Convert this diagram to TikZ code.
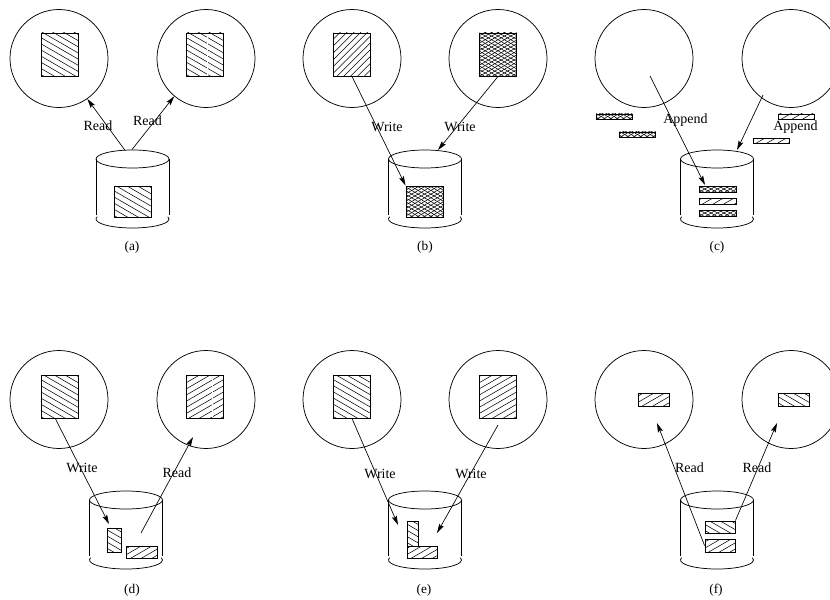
\documentclass[tikz,border=0pt]{standalone}
\usepackage{fontspec}
\setmainfont{Liberation Serif}
\usetikzlibrary{arrows.meta,calc}

% parallel hatch lines through the current path picture: angle, spacing
\newcommand\hatchlines[2]{%
  \foreach \k in {-14,...,14}{%
    \draw[line width=0.4pt]
      ($(path picture bounding box.center)
        +({-(\k)*#2*sin(#1)-45pt*cos(#1)},{(\k)*#2*cos(#1)-45pt*sin(#1)})$)
      -- ++({90pt*cos(#1)},{90pt*sin(#1)});}}

\tikzset{
  proc/.style={circle,draw,line width=0.55pt,minimum size=73.5pt,inner sep=0pt},
  blk/.style={rectangle,draw,line width=0.7pt,inner sep=0pt},
  sq/.style={blk,minimum width=27.75pt,minimum height=32.25pt},
  dsq/.style={blk,minimum width=27.75pt,minimum height=23.25pt},
  bar/.style={blk,minimum width=27.75pt,minimum height=4.5pt},
  hL/.style={path picture={\hatchlines{-30}{4pt}}},
  hR/.style={path picture={\hatchlines{30}{4pt}}},
  hF/.style={path picture={\hatchlines{45}{3.6pt}}},
  hX/.style={path picture={\hatchlines{30}{2.4pt}\hatchlines{-30}{2.4pt}}},
  arr/.style={line width=0.5pt,-{Stealth[length=7pt,width=3.8pt,inset=1.2pt]}},
  lbl/.style={font=\fontsize{10.5}{12}\selectfont,inner sep=0pt},
  panelcap/.style={font=\fontsize{10}{12}\selectfont,inner sep=0pt},
  rim/.style={line width=0.55pt},
  streak/.style={white,line width=0.7pt},
}

% storage drum: name, centre x, y of the lid centre
\newcommand\drumshape[3]{%
  \coordinate (#1) at (#2,#3);
  \draw[rim] (#1) ellipse [x radius=36.5, y radius=9];
  \draw[rim] ($(#1)+(-36.5,0)$) -- ++(0,56);
  \draw[rim] ($(#1)+(36.5,0)$) -- ++(0,56);
  \draw[rim] ($(#1)+({36.5*cos(195)},{60+9*sin(195)})$)
    arc[start angle=195,end angle=-15,x radius=36.5,y radius=9];
}

\begin{document}
\begin{tikzpicture}[x=0.75pt,y=-0.75pt]
\useasboundingbox (0,0) rectangle (830,599);
\clip (0,0) rectangle (830,599);

% ---------------- (a) ----------------
\node[proc] (a-p1) at (59,58.5) {};
\node[proc] (a-p2) at (206,58.5) {};
\node[sq,hL] (a-f1) at (59.5,54.5) {};
\node[sq,hL] (a-f2) at (205,54.5) {};
\draw[streak] (207,34) -- (207,75);
\drumshape{a-d}{132.5}{159}
\node[dsq,hL] (a-f0) at (132.5,201.5) {};
\coordinate (a-s1) at (125,150.3);
\coordinate (a-s2) at (132,149.5);
\draw[arr] (a-s1) -- (a-p1.-55);
\draw[arr] (a-s2) -- (a-p2.230);
\node[lbl] (a-l1) at (98,126) {Read};
\node[lbl] (a-l2) at (147.5,120.5) {Read};
\node[panelcap] (a-c) at (132,247) {(a)};

% ---------------- (b) ----------------
\node[proc] (b-p1) at (352,58.5) {};
\node[proc] (b-p2) at (498,58.5) {};
\node[sq,hF] (b-f1) at (352,54.5) {};
\node[sq,hX] (b-f2) at (498,54.5) {};
\drumshape{b-d}{425}{159}
\node[dsq,hX] (b-f0) at (424.5,201.5) {};
\coordinate (b-e2) at (438,150);
\draw[arr] (b-f1.south) -- (b-f0.north west);
\draw[arr] (b-f2.south) -- (b-e2);
\node[lbl] (b-l1) at (387,127) {Write};
\node[lbl] (b-l2) at (460,127) {Write};
\node[panelcap] (b-c) at (425,247) {(b)};

% ---------------- (c) ----------------
\node[proc] (c-p1) at (644,58.5) {};
\node[proc] (c-p2) at (791,58.5) {};
\node[bar,hX,minimum width=27pt,minimum height=3.75pt] (c-o1) at (614,116.5) {};
\node[bar,hX,minimum width=27pt,minimum height=3.75pt] (c-o2) at (637.5,134.5) {};
\node[bar,hR,minimum width=27pt,minimum height=3.75pt] (c-o3) at (796.5,116.5) {};
\node[bar,hR,minimum width=27pt,minimum height=3.75pt] (c-o4) at (771.5,140.5) {};
\drumshape{c-d}{717}{159}
\node[bar,hX] (c-b1) at (717.5,189) {};
\node[bar,hR] (c-b2) at (717.5,201.5) {};
\node[bar,hX] (c-b3) at (717.5,213) {};
\coordinate (c-s1) at (650,76);
\coordinate (c-e1) at (705,185);
\coordinate (c-s2) at (763,95);
\coordinate (c-e2) at (737,150);
\draw[arr] (c-s1) -- (c-e1);
\draw[arr] (c-s2) -- (c-e2);
\node[lbl] (c-l1) at (685.5,120.5) {Append};
\node[lbl] (c-l2) at (795.5,127) {Append};
\node[panelcap] (c-c) at (717,247) {(c)};

% ---------------- (d) ----------------
\node[proc] (d-p1) at (59,399.5) {};
\node[proc] (d-p2) at (206,399.5) {};
\node[sq,hL] (d-f1) at (59.5,396.5) {};
\node[sq,hR] (d-f2) at (205,396.5) {};
\draw[streak] (212,376) -- (212,417);
\drumshape{d-d}{126}{500}
\node[blk,hL,minimum width=10.5pt,minimum height=18pt] (d-r1) at (114,540) {};
\node[blk,hR,minimum width=23.25pt,minimum height=9pt] (d-r2) at (141.5,552) {};
\coordinate (d-s1) at (55,418);
\coordinate (d-e1) at (109,524);
\coordinate (d-s2) at (141,533);
\coordinate (d-e2) at (193,437);
\draw[arr] (d-s1) -- (d-e1);
\draw[arr] (d-s2) -- (d-e2);
\node[lbl] (d-l1) at (82,468) {Write};
\node[lbl] (d-l2) at (177,473) {Read};
\node[panelcap] (d-c) at (132,590) {(d)};

% ---------------- (e) ----------------
\node[proc] (e-p1) at (352,399.5) {};
\node[proc] (e-p2) at (498,399.5) {};
\node[sq,hL] (e-f1) at (352,396.5) {};
\node[sq,hR] (e-f2) at (498,396.5) {};
\drumshape{e-d}{425}{500}
\node[blk,hL,minimum width=8.25pt,minimum height=18.75pt] (e-r1) at (412.5,533.5) {};
\node[blk,hR,minimum width=22.5pt,minimum height=9pt] (e-r2) at (422,552) {};
\coordinate (e-e1) at (398,525);
\coordinate (e-s2) at (498,425);
\coordinate (e-e2) at (437,533);
\draw[arr] (e-f1.south) -- (e-e1);
\draw[arr] (e-s2) -- (e-e2);
\node[lbl] (e-l1) at (380,474) {Write};
\node[lbl] (e-l2) at (471,474) {Write};
\node[panelcap] (e-c) at (424,590) {(e)};

% ---------------- (f) ----------------
\node[proc] (f-p1) at (644,399.5) {};
\node[proc] (f-p2) at (791,399.5) {};
\node[blk,hR,minimum width=23.25pt,minimum height=9.75pt] (f-m1) at (653.5,399.5) {};
\node[blk,hL,minimum width=23.25pt,minimum height=9.75pt] (f-m2) at (793.5,399.5) {};
\drumshape{f-d}{717}{500}
\node[blk,hL,minimum width=22.5pt,minimum height=9pt] (f-r1) at (720,527) {};
\node[blk,hR,minimum width=22.5pt,minimum height=9.75pt] (f-r2) at (720,545.5) {};
\coordinate (f-e1) at (657,423);
\coordinate (f-e2) at (777,423);
\draw[arr] (f-r2.west) -- (f-e1);
\draw[arr] (f-r1.north east) -- (f-e2);
\node[lbl] (f-l1) at (689.5,468) {Read};
\node[lbl] (f-l2) at (757,468) {Read};
\node[panelcap] (f-c) at (716,590) {(f)};
\end{tikzpicture}
\end{document}
